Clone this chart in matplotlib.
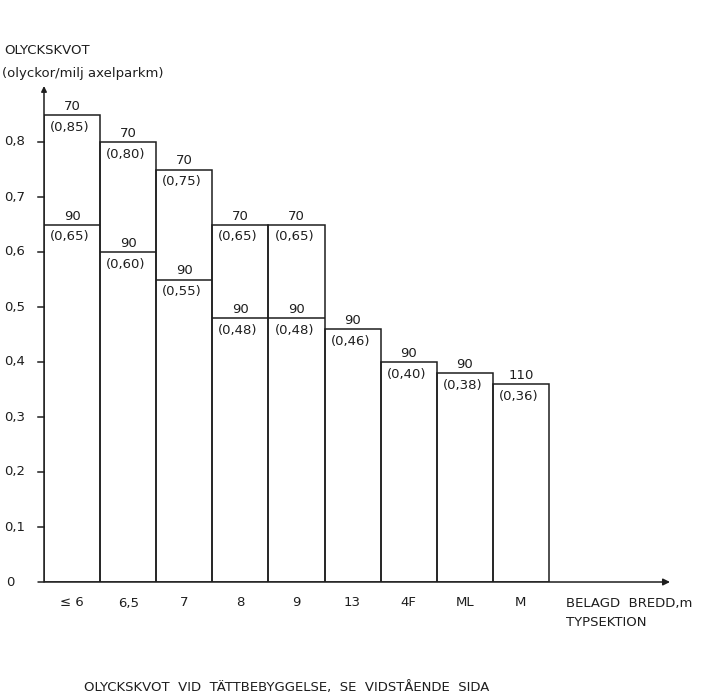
import matplotlib
matplotlib.use("Agg")
import matplotlib.pyplot as plt

categories = ['≤ 6', '6,5', '7', '8', '9', '13', '4F', 'ML', 'M']
v70 = [0.85, 0.80, 0.75, 0.65, 0.65, None, None, None, None]
v90 = [0.65, 0.60, 0.55, 0.48, 0.48, 0.46, 0.40, 0.38, None]
v110 = [None, None, None, None, None, None, None, None, 0.36]
yticks = [0.1, 0.2, 0.3, 0.4, 0.5, 0.6, 0.7, 0.8]

W, H = 706, 697
fig = plt.figure(figsize=(W / 100, H / 100), dpi=100)
col = '#1e1e1e'
plt.rcParams['font.family'] = ['DejaVu Sans']

x0px, y0px = 44, 582
pxx, pxy = 56.1, 550.0
right_px, top_px = 680, 82
ax = fig.add_axes([x0px / W, (H - y0px) / H, (right_px - x0px) / W, (y0px - top_px) / H])
ax.set_xlim(0, (right_px - x0px) / pxx)
ax.set_ylim(0, (y0px - top_px) / pxy)
ax.axis('off')

fs = 9.5
lw = 1.1

def fmt(v):
    return '(' + ('%.2f' % v).replace('.', ',') + ')'

for i, cat in enumerate(categories):
    levels = [(s, v) for s, v in (('70', v70[i]), ('90', v90[i]), ('110', v110[i])) if v is not None]
    top = max(v for _, v in levels)
    ax.bar(i, top, width=1, align='edge', fill=False, edgecolor=col, linewidth=lw)
    for s, v in levels:
        if v != top:
            ax.hlines(v, i, i + 1, color=col, linewidth=lw)
        ax.text(i + 0.5, v + 2 / pxy, s, ha='center', va='bottom', fontsize=fs, color=col)
        ax.text(i + 6 / pxx, v - 6 / pxy, fmt(v), ha='left', va='top', fontsize=fs, color=col)
    ax.text(i + 0.5, -21 / pxy, cat, ha='center', va='center', fontsize=fs, color=col, clip_on=False)

# axes with arrows
xmax = (670 - x0px) / pxx
ymax = (582 - 86) / pxy
ax.annotate('', xy=(xmax, 0), xytext=(-6 / pxx, 0),
            arrowprops=dict(arrowstyle='-|>', color=col, lw=lw, mutation_scale=10,
                            shrinkA=0, shrinkB=0), annotation_clip=False)
ax.annotate('', xy=(0, ymax), xytext=(0, 0),
            arrowprops=dict(arrowstyle='-|>', color=col, lw=lw, mutation_scale=8,
                            shrinkA=0, shrinkB=0), annotation_clip=False)

for t in yticks:
    ax.plot([-6 / pxx, 0], [t, t], color=col, lw=lw, clip_on=False)
    ax.text(-19 / pxx, t, ('%.1f' % t).replace('.', ','), ha='right', va='center',
            fontsize=fs, color=col, clip_on=False)
ax.text(-34 / pxx, 0, '0', ha='center', va='center', fontsize=fs, color=col, clip_on=False)

def ftext(x, y, s, **kw):
    fig.text(x / W, 1 - y / H, s, fontsize=fs, color=col, va='center', **kw)

ftext(4, 51, 'OLYCKSKVOT')
ftext(2, 73, '(olyckor/milj axelparkm)')
ftext(566, 603, 'BELAGD  BREDD,m')
ftext(566, 623, 'TYPSEKTION')
ftext(84, 688, 'OLYCKSKVOT  VID  TÄTTBEBYGGELSE,  SE  VIDSTÅENDE  SIDA')

fig.savefig('out.png', dpi=100, facecolor='white')
